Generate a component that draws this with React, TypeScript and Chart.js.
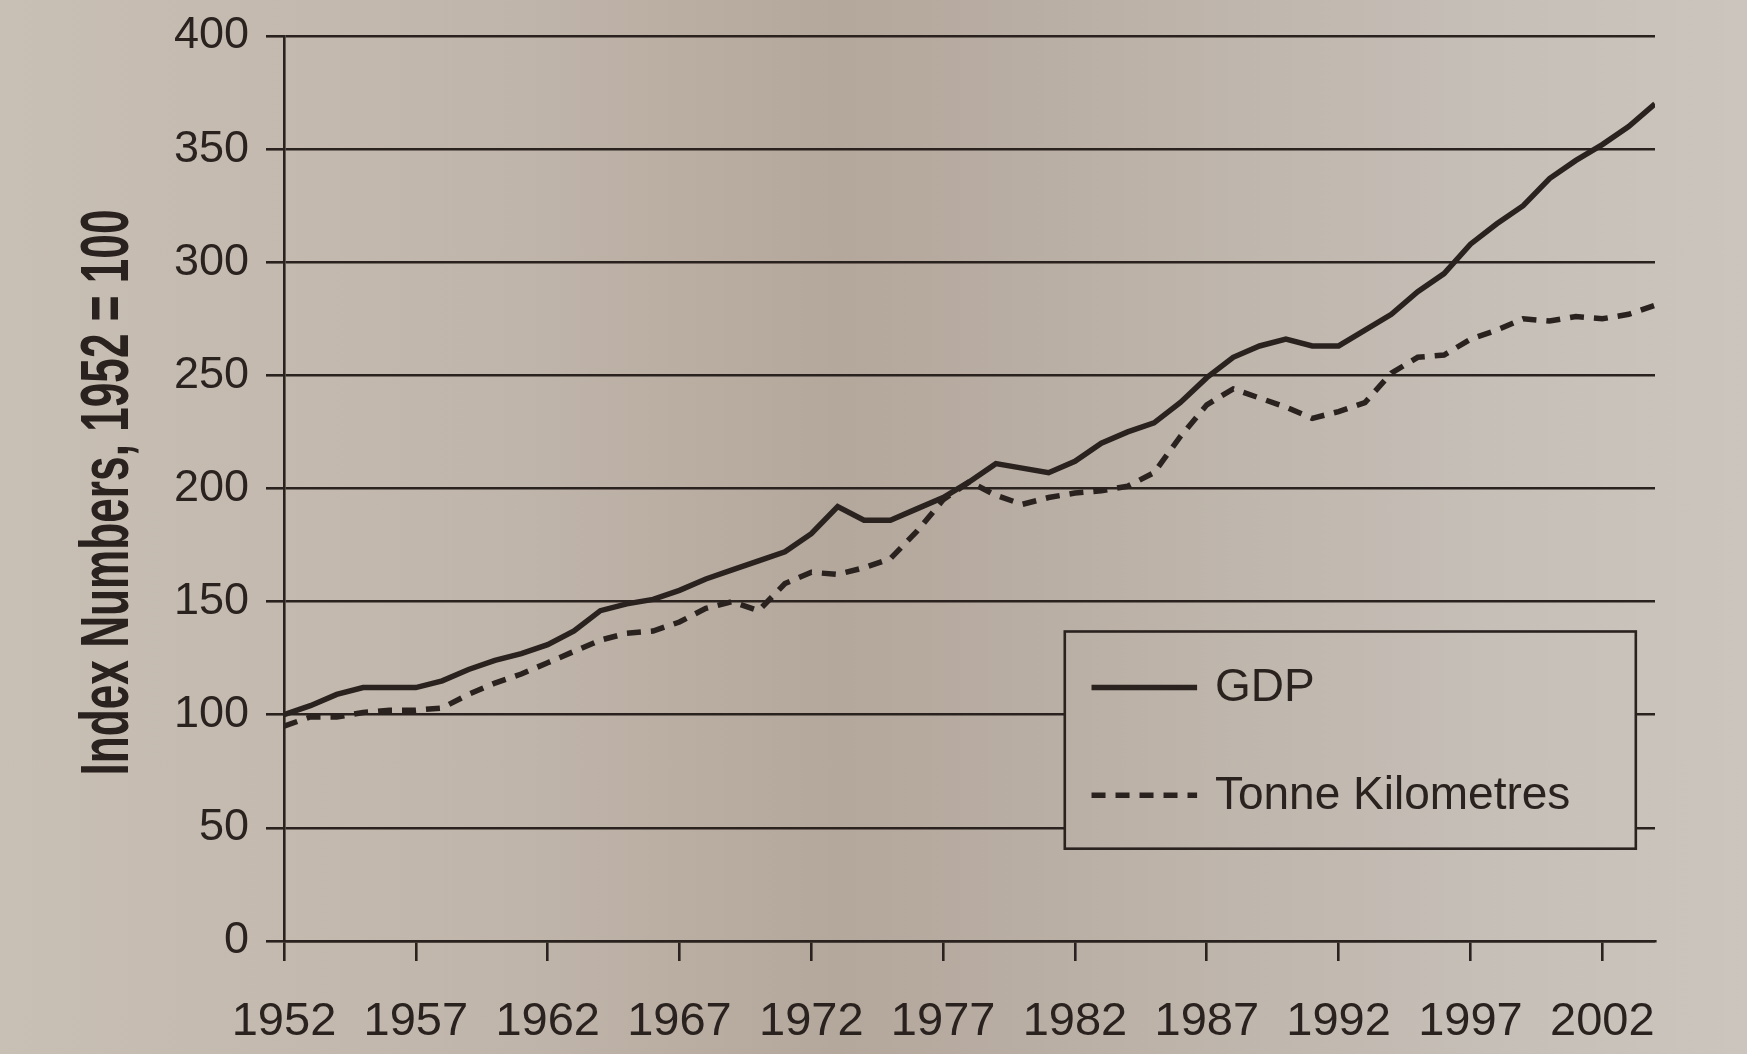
import React, { useEffect, useRef } from "react";
import { Chart, registerables } from "chart.js";

Chart.register(...registerables);

const years = [
  1952, 1953, 1954, 1955, 1956, 1957, 1958, 1959, 1960, 1961,
  1962, 1963, 1964, 1965, 1966, 1967, 1968, 1969, 1970, 1971,
  1972, 1973, 1974, 1975, 1976, 1977, 1978, 1979, 1980, 1981,
  1982, 1983, 1984, 1985, 1986, 1987, 1988, 1989, 1990, 1991,
  1992, 1993, 1994, 1995, 1996, 1997, 1998, 1999, 2000, 2001,
  2002, 2003, 2004,
];

const gdp = [
  100, 104, 109, 112, 112, 112, 115, 120, 124, 127,
  131, 137, 146, 149, 151, 155, 160, 164, 168, 172,
  180, 192, 186, 186, 191, 196, 203, 211, 209, 207,
  212, 220, 225, 229, 238, 249, 258, 263, 266, 263,
  263, 270, 277, 287, 295, 308, 317, 325, 337, 345,
  352, 360, 370,
];

const tonneKm = [
  95, 99, 99, 101, 102, 102, 103, 109, 114, 118,
  123, 128, 133, 136, 137, 141, 147, 150, 146, 158,
  163, 162, 165, 169, 181, 195, 203, 197, 193, 196,
  198, 199, 201, 207, 223, 237, 244, 240, 236, 231,
  234, 238, 251, 258, 259, 266, 270, 275, 274, 276,
  275, 277, 281,
];

const xTicks = [1952, 1957, 1962, 1967, 1972, 1977, 1982, 1987, 1992, 1997, 2002];
const yTicks = [0, 50, 100, 150, 200, 250, 300, 350, 400];
const seriesNames = ["GDP", "Tonne Kilometres"];
const yTitle = "Index Numbers, 1952 = 100";

const INK = "#2a221f";
const SANS = '"Liberation Sans", Arial, Helvetica, sans-serif';

// y-axis title drawn as condensed bold text, rotated
const yTitlePlugin = {
  id: "yTitleCondensed",
  afterDraw(chart: any) {
    const { ctx, chartArea: a } = chart;
    const cy = (a.top + a.bottom) / 2 + 4;
    const baselineX = 128;
    const targetLen = 566;
    ctx.save();
    ctx.font = `bold 68px ${SANS}`;
    const w = ctx.measureText(yTitle).width;
    ctx.translate(baselineX, cy);
    ctx.rotate(-Math.PI / 2);
    ctx.scale(targetLen / w, 1);
    ctx.fillStyle = INK;
    ctx.textAlign = "center";
    ctx.textBaseline = "alphabetic";
    ctx.fillText(yTitle, 0, 0);
    ctx.restore();
  },
};

const legendBox = {
  id: "legendBox",
  afterDatasetsDraw(chart: any) {
    const { ctx, chartArea: a } = chart;
    const w = a.right - a.left;
    const h = a.bottom - a.top;
    const x0 = a.left + 0.5695 * w;
    const x1 = a.left + 0.986 * w;
    const y0 = a.top + 0.658 * h;
    const y1 = a.top + 0.898 * h;
    ctx.save();
    ctx.clearRect(x0, y0, x1 - x0, y1 - y0);
    ctx.strokeStyle = INK;
    ctx.lineWidth = 2.6;
    ctx.strokeRect(x0, y0, x1 - x0, y1 - y0);
    const rows = [0.72, 0.839];
    chart.data.datasets.forEach((ds: any, i: number) => {
      const yy = a.top + rows[i] * h;
      ctx.strokeStyle = INK;
      ctx.setLineDash(ds.borderDash || []);
      ctx.lineWidth = ds.borderWidth;
      ctx.beginPath();
      ctx.moveTo(a.left + 0.589 * w, yy);
      ctx.lineTo(a.left + 0.666 * w, yy);
      ctx.stroke();
      ctx.setLineDash([]);
      ctx.fillStyle = INK;
      ctx.font = `46px ${SANS}`;
      ctx.textBaseline = "middle";
      ctx.textAlign = "left";
      ctx.fillText(ds.label, a.left + 0.679 * w, yy + 1);
    });
    ctx.restore();
  },
};

export default function App() {
  const ref = useRef<HTMLCanvasElement | null>(null);

  useEffect(() => {
    if (!ref.current) return;
    const chart = new Chart(ref.current, {
      type: "line",
      data: {
        datasets: [
          {
            label: seriesNames[0],
            data: years.map((yr, i) => ({ x: yr, y: gdp[i] })),
            borderColor: INK,
            borderWidth: 5.5,
            pointRadius: 0,
            tension: 0,
          },
          {
            label: seriesNames[1],
            data: years.map((yr, i) => ({ x: yr, y: tonneKm[i] })),
            borderColor: INK,
            borderWidth: 5.5,
            borderDash: [14, 10],
            pointRadius: 0,
            tension: 0,
          },
        ],
      },
      options: {
        animation: false,
        responsive: false,
        devicePixelRatio: 1,
        layout: { padding: { top: 36, right: 92, bottom: 0, left: 0 } },
        plugins: {
          legend: { display: false },
          tooltip: { enabled: false },
        },
        scales: {
          x: {
            type: "linear",
            min: 1952,
            max: 2004,
            afterBuildTicks: (s: any) => {
              s.ticks = xTicks.map((v) => ({ value: v }));
            },
            afterFit: (s: any) => {
              s.height = 113;
            },
            ticks: {
              color: INK,
              font: { family: SANS, size: 47 },
              padding: 33,
              autoSkip: false,
              maxRotation: 0,
              callback: (v: any) => String(v),
            },
            grid: {
              drawOnChartArea: false,
              drawTicks: true,
              tickLength: 20,
              color: INK,
              lineWidth: 2.6,
            },
            border: { display: true, color: INK, width: 2.6 },
          },
          y: {
            min: 0,
            max: 400,
            afterBuildTicks: (s: any) => {
              s.ticks = yTicks.map((v) => ({ value: v }));
            },
            afterFit: (s: any) => {
              s.width = 284;
              s.paddingTop = 0;
              s.paddingBottom = 0;
            },
            ticks: {
              color: INK,
              font: { family: SANS, size: 45 },
              padding: 17,
              callback: (v: any) => String(v),
            },
            grid: {
              color: INK,
              lineWidth: 2.6,
              tickLength: 18,
            },
            border: { display: true, color: INK, width: 2.6 },
          },
        },
      },
      plugins: [legendBox, yTitlePlugin],
    } as any);
    return () => chart.destroy();
  }, []);

  return (
    <div
      style={{
        position: "fixed",
        left: 0,
        top: 0,
        width: 1747,
        height: 1054,
        background:
          "linear-gradient(90deg, #c8bfb5 0%, #c0b5aa 30%, #b4a79c 48%, #bcb2a8 65%, #c6bfb7 85%, #cbc5be 100%)",
      }}
    >
      <canvas ref={ref} width={1747} height={1054} style={{ display: "block" }} />
    </div>
  );
}
